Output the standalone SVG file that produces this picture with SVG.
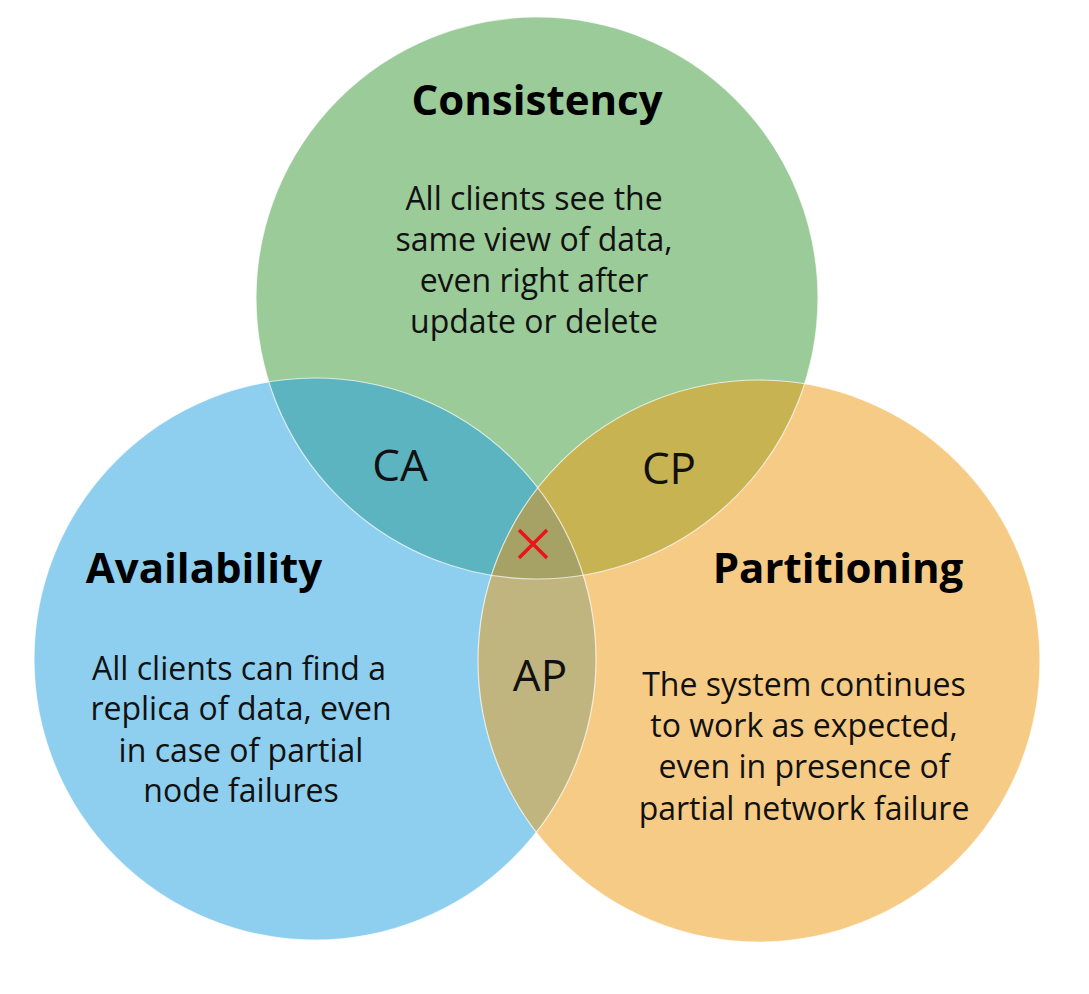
<svg xmlns="http://www.w3.org/2000/svg" width="1089" height="994" viewBox="0 0 1089 994">
  <style>
    .title { font-family: "Open Sans", "Noto Sans", "DejaVu Sans", sans-serif; font-weight: bold; font-size: 42px; fill: #000; text-anchor: middle; }
    .body { font-family: "Open Sans", "Noto Sans", "DejaVu Sans", sans-serif; font-size: 32px; fill: #111; text-anchor: middle; }
    .lbl { font-family: "Open Sans", "Noto Sans", "DejaVu Sans", sans-serif; font-size: 44px; fill: #111; text-anchor: middle; }
    .edge { fill: none; stroke: #ffffff; stroke-opacity: 0.7; stroke-width: 1.2; }
  </style>
  <defs>
    <clipPath id="clipA"><circle cx="315" cy="659" r="281"/></clipPath>
    <clipPath id="clipP"><circle cx="759" cy="661" r="281"/></clipPath>
    <clipPath id="clipC"><circle cx="537" cy="298" r="281"/></clipPath>
  </defs>
  <rect width="1089" height="994" fill="#ffffff"/>

  <g id="availability">
    <circle cx="315" cy="659" r="281" fill="#8ECFEF"/>
  </g>
  <g id="partitioning">
    <circle cx="759" cy="661" r="281" fill="#F6CB86"/>
  </g>
  <g id="consistency">
    <circle cx="537" cy="298" r="281" fill="#9ACB98"/>
  </g>

  <g id="ap-region">
    <circle cx="759" cy="661" r="281" fill="#C0B57E" clip-path="url(#clipA)"/>
  </g>
  <g id="ca-region">
    <circle cx="537" cy="298" r="281" fill="#5BB4BF" clip-path="url(#clipA)"/>
  </g>
  <g id="cp-region">
    <circle cx="537" cy="298" r="281" fill="#C8B352" clip-path="url(#clipP)"/>
  </g>
  <g id="cap-region" clip-path="url(#clipA)">
    <circle cx="537" cy="298" r="281" fill="#A6A265" clip-path="url(#clipP)"/>
  </g>

  <g id="outlines">
    <circle class="edge" cx="315" cy="659" r="281"/>
    <circle class="edge" cx="759" cy="661" r="281"/>
    <circle class="edge" cx="537" cy="298" r="281"/>
  </g>

  <g id="consistency-text">
    <text class="title" x="537" y="115">Consistency</text>
    <text class="body" x="534" y="210">All clients see the</text>
    <text class="body" x="534" y="251">same view of data,</text>
    <text class="body" x="534" y="292">even right after</text>
    <text class="body" x="534" y="333">update or delete</text>
  </g>
  <g id="availability-text">
    <text class="title" x="204" y="583">Availability</text>
    <text class="body" x="239" y="680">All clients can find a</text>
    <text class="body" x="241" y="720">replica of data, even</text>
    <text class="body" x="241" y="762">in case of partial</text>
    <text class="body" x="241" y="802">node failures</text>
  </g>
  <g id="partitioning-text">
    <text class="title" x="838" y="583">Partitioning</text>
    <text class="body" x="804" y="696">The system continues</text>
    <text class="body" x="804" y="737">to work as expected,</text>
    <text class="body" x="804" y="778">even in presence of</text>
    <text class="body" x="804" y="820">partial network failure</text>
  </g>

  <g id="labels">
    <text class="lbl" x="400" y="481">CA</text>
    <text class="lbl" x="669" y="484">CP</text>
    <text class="lbl" x="540" y="691">AP</text>
  </g>
  <g id="cross">
    <path d="M519,530 L547,558 M547,530 L519,558" stroke="#E8141A" stroke-width="3.5" fill="none"/>
  </g>
</svg>
